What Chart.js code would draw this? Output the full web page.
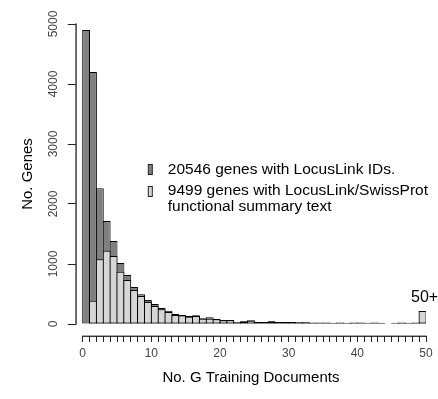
<!DOCTYPE html>
<html>
<head>
<meta charset="utf-8">
<script src="https://cdn.jsdelivr.net/npm/chart.js@4.4.1/dist/chart.umd.min.js"></script>
<style>
  html, body { margin: 0; padding: 0; background: #fff; }
  canvas { display: block; }
</style>
</head>
<body>
<canvas id="hist" width="438" height="399"></canvas>
<script>
// histogram bins: number of G training documents (last bin holds 50+)
const binStart = [0, 1, 2, 3, 4, 5, 6, 7, 8, 9,
                  10, 11, 12, 13, 14, 15, 16, 17, 18, 19,
                  20, 21, 22, 23, 24, 25, 26, 27, 28, 29,
                  30, 31, 32, 33, 34, 35, 36, 37, 38, 39,
                  40, 41, 42, 43, 44, 45, 46, 47, 48, 49];

// genes with LocusLink IDs
const allGenes = [4900, 4200, 2261, 1717, 1383, 1017, 817, 617, 494, 400,
                  333, 267, 222, 167, 150, 133, 144, 94, 111, 83,
                  67, 67, 28, 44, 61, 33, 33, 44, 33, 32,
                  32, 31, 31, 24, 23, 24, 22, 23, 22, 24,
                  23, 22, 23, 22, 0, 22, 23, 22, 23, 217];

// genes with LocusLink/SwissProt functional summary text
const summaryGenes = [0, 388, 1078, 1222, 1133, 872, 733, 567, 467, 367,
                      300, 245, 200, 150, 140, 122, 135, 88, 89, 78,
                      62, 62, 25, 40, 56, 30, 30, 40, 28, 28,
                      27, 26, 26, 18, 18, 18, 17, 18, 17, 18,
                      18, 17, 18, 17, 0, 17, 18, 17, 18, 217];

const xTicks = [0, 1, 2, 3, 4, 5, 6, 7, 8, 9, 10, 11, 12, 13, 14, 15, 16, 17,
                18, 19, 20, 21, 22, 23, 24, 25, 26, 27, 28, 29, 30, 31, 32, 33,
                34, 35, 36, 37, 38, 39, 40, 41, 42, 43, 44, 45, 46, 47, 48, 49, 50];
const yTicks = [0, 1000, 2000, 3000, 4000, 5000];

const seriesNames = ['20546 genes with LocusLink IDs.',
                     ['9499 genes with LocusLink/SwissProt', 'functional summary text']];
const lastBinLabel = '50+';

const FONT = '"Liberation Sans", Arial, sans-serif';
const DARK = '#808080';
const LIGHT = '#d6d6d6';
const AXIS = '#222';

function toPoints(values) {
  return binStart.map((b, i) => ({ x: b + 0.5, y: values[i] }));
}

// keep tick labels from pushing the plot area around
function noPadding(s) {
  s.paddingLeft = 0;
  s.paddingRight = 0;
  s.paddingTop = 0;
  s.paddingBottom = 0;
}

// R-style axes (detached lines), rotated y labels, legend and the 50+ note
const extras = {
  id: 'extras',
  afterDraw(chart) {
    const { ctx, chartArea, scales: { x, y } } = chart;
    ctx.save();

    // axis lines only span the first to last tick
    ctx.fillStyle = AXIS;
    const yTop = y.getPixelForValue(yTicks[yTicks.length - 1]);
    const yBot = y.getPixelForValue(yTicks[0]);
    ctx.fillRect(chartArea.left - 0.4, yTop - 0.6, 1.3, yBot - yTop + 1.2);

    const xL = x.getPixelForValue(xTicks[0]);
    const xR = x.getPixelForValue(xTicks[xTicks.length - 1]);
    ctx.fillRect(xL - 0.6, chartArea.bottom - 0.4, xR - xL + 1.2, 1.3);

    // y tick labels, parallel to the axis
    ctx.fillStyle = '#444';
    ctx.font = '12px ' + FONT;
    ctx.textAlign = 'center';
    ctx.textBaseline = 'middle';
    yTicks.forEach(v => {
      ctx.save();
      ctx.translate(chartArea.left - 22, y.getPixelForValue(v));
      ctx.rotate(-Math.PI / 2);
      ctx.fillText(String(v), 0, 0);
      ctx.restore();
    });

    // y axis title
    ctx.fillStyle = '#000';
    ctx.font = '15px ' + FONT;
    ctx.save();
    ctx.translate(28, (yTop + yBot) / 2);
    ctx.rotate(-Math.PI / 2);
    ctx.fillText('No. Genes', 0, 0);
    ctx.restore();

    // legend
    ctx.strokeStyle = AXIS;
    ctx.lineWidth = 1;
    const lx = chartArea.left + 72.5;
    const tx = chartArea.left + 92;
    ctx.font = '15.5px ' + FONT;
    ctx.textAlign = 'left';
    ctx.fillStyle = DARK;
    ctx.fillRect(lx, 164.5, 4, 10);
    ctx.strokeRect(lx, 164.5, 4, 10);
    ctx.fillStyle = LIGHT;
    ctx.fillRect(lx, 186.5, 4, 10);
    ctx.strokeRect(lx, 186.5, 4, 10);
    ctx.fillStyle = '#000';
    ctx.fillText(seriesNames[0], tx, 170);
    ctx.fillText(seriesNames[1][0], tx, 191);
    ctx.fillText(seriesNames[1][1], tx, 206.5);

    // label over the last (50+) bin
    const last = binStart.length - 1;
    ctx.font = '16px ' + FONT;
    ctx.textAlign = 'center';
    ctx.textBaseline = 'alphabetic';
    ctx.fillText(lastBinLabel, x.getPixelForValue(binStart[last] + 0.5) + 2,
                 y.getPixelForValue(Math.max(allGenes[last], summaryGenes[last])) - 9);
    ctx.restore();
  }
};

const barStyle = {
  borderColor: '#000',
  borderWidth: 1,
  borderSkipped: false,
  barPercentage: 1.145,
  categoryPercentage: 1,
  grouped: false
};

new Chart(document.getElementById('hist'), {
  type: 'bar',
  data: {
    datasets: [
      Object.assign({ label: seriesNames[0], data: toPoints(allGenes), backgroundColor: DARK, order: 2 }, barStyle),
      Object.assign({ label: seriesNames[1].join(' '), data: toPoints(summaryGenes), backgroundColor: LIGHT, order: 1 }, barStyle)
    ]
  },
  options: {
    responsive: false,
    animation: false,
    layout: { padding: { top: 24, right: 12, left: 0, bottom: 0 } },
    plugins: {
      legend: { display: false },
      tooltip: { enabled: false }
    },
    scales: {
      x: {
        type: 'linear',
        min: -1,
        max: 50,
        offset: false,
        afterBuildTicks: s => { s.ticks = xTicks.map(v => ({ value: v })); },
        afterFit: s => { s.height = 63; noPadding(s); },
        border: { display: false },
        grid: { offset: false, drawOnChartArea: false, drawTicks: true, tickLength: 6, color: AXIS },
        ticks: {
          autoSkip: false,
          maxRotation: 0,
          minRotation: 0,
          padding: 4,
          color: '#444',
          font: { family: FONT, size: 12 },
          callback: v => (v % 10 === 0 ? String(v) : '')
        },
        title: {
          display: true,
          text: 'No. G Training Documents',
          color: '#000',
          font: { family: FONT, size: 15 },
          padding: { top: 0, bottom: 12 }
        }
      },
      y: {
        min: -200,
        max: 5000,
        afterBuildTicks: s => { s.ticks = yTicks.map(v => ({ value: v })); },
        afterFit: s => { s.width = 75.8; noPadding(s); },
        border: { display: false },
        grid: { drawOnChartArea: false, drawTicks: true, tickLength: 8, color: AXIS },
        ticks: { display: false }
      }
    }
  },
  plugins: [extras]
});
</script>
</body>
</html>
